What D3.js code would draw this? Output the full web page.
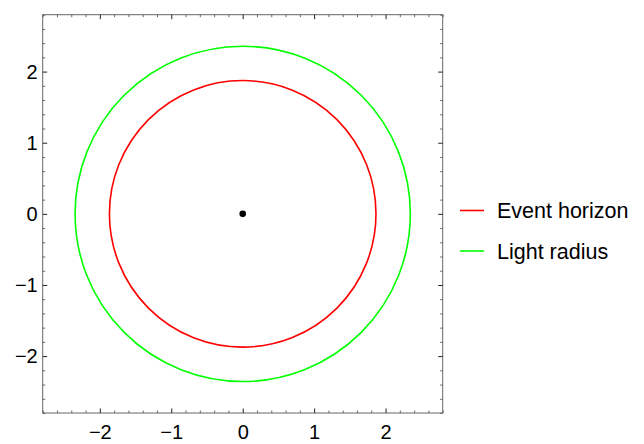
<!DOCTYPE html>
<html>
<head>
<meta charset="utf-8">
<script src="https://cdn.jsdelivr.net/npm/d3@7"></script>
<style>
  body { margin: 0; background: #fff; }
  text { font-family: "Liberation Sans", Arial, sans-serif; }
</style>
</head>
<body>
<svg id="chart" width="644" height="444"></svg>
<script>
// data
const seriesNames = ["Event horizon", "Light radius"];
const seriesRadius = [1.866, 2.347];
const seriesColors = ["#ff0000", "#00ff00"];
const centerPoint = [0, 0];
const majorTicks = [-2, -1, 0, 1, 2];
const minorTicks = d3.range(-28, 29, 2).map(d => d / 10).filter(d => !majorTicks.includes(d));

const svg = d3.select("#chart");
const frame = {left: 42.7, right: 442.7, top: 14.7, bottom: 413};

const x = d3.scaleLinear().domain([-2.8, 2.8]).range([frame.left, frame.right]);
const y = d3.scaleLinear().domain([-2.8, 2.8]).range([frame.bottom, frame.top]);

// frame
svg.append("rect")
   .attr("x", frame.left).attr("y", frame.top)
   .attr("width", frame.right - frame.left)
   .attr("height", frame.bottom - frame.top)
   .attr("fill", "none")
   .attr("stroke", "#666")
   .attr("stroke-width", 1);

// ticks on all four sides, pointing inward
function addAxis(axisFn, scale, tr, ticks, size, labels, color) {
    const g = svg.append("g")
        .attr("transform", tr)
        .call(axisFn(scale).tickValues(ticks).tickSize(-size).tickPadding(5)
              .tickFormat(labels ? d3.format("d") : ""));
    g.select(".domain").remove();
    g.selectAll("line").attr("stroke", color);
    g.selectAll("text").style("font-size", "20px").attr("fill", "#000");
    return g;
}

addAxis(d3.axisBottom, x, `translate(0,${frame.bottom})`, minorTicks, 2.5, false, "#666");
addAxis(d3.axisTop, x, `translate(0,${frame.top})`, minorTicks, 2.5, false, "#666");
addAxis(d3.axisLeft, y, `translate(${frame.left},0)`, minorTicks, 2.5, false, "#666");
addAxis(d3.axisRight, y, `translate(${frame.right},0)`, minorTicks, 2.5, false, "#666");

const xb = addAxis(d3.axisBottom, x, `translate(0,${frame.bottom})`, majorTicks, 4.5, true, "#222");
xb.selectAll("text").attr("dy", "0.71em").attr("y", 12);
addAxis(d3.axisTop, x, `translate(0,${frame.top})`, majorTicks, 4.5, false, "#222");
const yl = addAxis(d3.axisLeft, y, `translate(${frame.left},0)`, majorTicks, 4.5, true, "#222");
yl.selectAll("text").attr("x", -5);
addAxis(d3.axisRight, y, `translate(${frame.right},0)`, majorTicks, 4.5, false, "#222");

// circles
const plot = svg.append("g");
plot.selectAll("circle.ring")
    .data(seriesRadius)
    .join("circle")
    .attr("class", "ring")
    .attr("cx", x(centerPoint[0]))
    .attr("cy", y(centerPoint[1]))
    .attr("r", d => x(d) - x(0))
    .attr("fill", "none")
    .attr("stroke", (d, i) => seriesColors[i])
    .attr("stroke-width", 1.6);

// center point
plot.append("circle")
    .attr("cx", x(centerPoint[0]))
    .attr("cy", y(centerPoint[1]))
    .attr("r", 3.3)
    .attr("fill", "#000");

// legend
const legend = svg.append("g").attr("transform", "translate(460,210.5)");
const item = legend.selectAll("g")
    .data(seriesNames)
    .join("g")
    .attr("transform", (d, i) => `translate(0,${i * 40.5})`);
item.append("line")
    .attr("x1", 0).attr("x2", 24)
    .attr("stroke", (d, i) => seriesColors[i])
    .attr("stroke-width", 1.6);
item.append("text")
    .attr("x", 37)
    .attr("dy", "0.35em")
    .style("font-size", "21.5px")
    .text(d => d);
</script>
</body>
</html>
